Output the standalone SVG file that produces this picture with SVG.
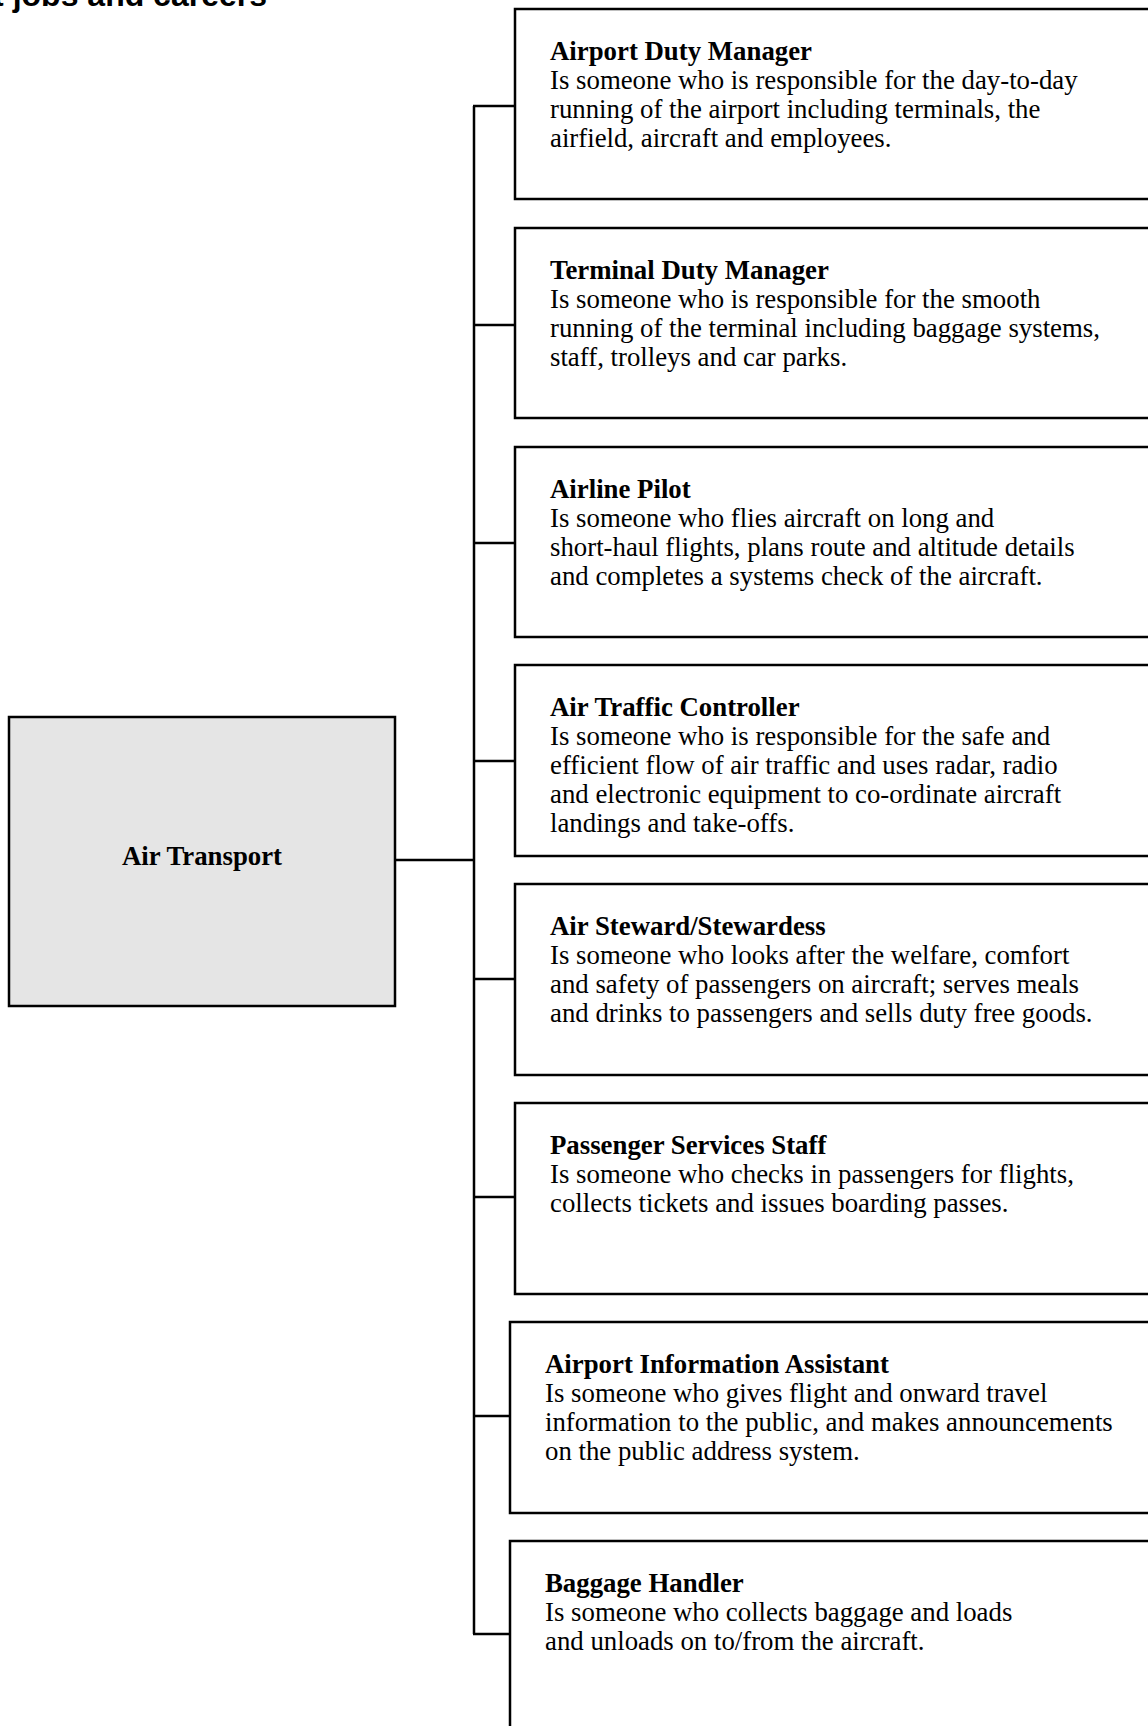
<svg xmlns="http://www.w3.org/2000/svg" width="1148" height="1726" viewBox="0 0 1148 1726">
<style>
.box{fill:#ffffff;stroke:#000;stroke-width:2.5}
.root{fill:#e5e5e5;stroke:#000;stroke-width:2.5}
.ln{stroke:#000;stroke-width:2.5;fill:none}
.t{font-family:"Liberation Serif","Times New Roman",serif;font-size:26.8px;fill:#000}
.h{font-weight:bold}
.title{font-family:"Liberation Sans",Arial,sans-serif;font-size:32px;font-weight:bold;fill:#000}
</style>
<rect width="1148" height="1726" fill="#fff"/>
<text class="title" x="267" y="6" text-anchor="end">Air Transport jobs and careers</text>
<g id="connectors">
<line class="ln" x1="474" y1="106" x2="474" y2="1634"/>
<line class="ln" x1="396" y1="860" x2="474" y2="860"/>
<line class="ln" x1="473" y1="106" x2="515" y2="106"/>
<line class="ln" x1="473" y1="325" x2="515" y2="325"/>
<line class="ln" x1="473" y1="543" x2="515" y2="543"/>
<line class="ln" x1="473" y1="761" x2="515" y2="761"/>
<line class="ln" x1="473" y1="979" x2="515" y2="979"/>
<line class="ln" x1="473" y1="1197" x2="515" y2="1197"/>
<line class="ln" x1="473" y1="1416" x2="510" y2="1416"/>
<line class="ln" x1="473" y1="1634" x2="510" y2="1634"/>
</g>
<g id="air-transport">
<rect class="root" x="9" y="717" width="386" height="289"/>
<text class="t h" x="202" y="865" text-anchor="middle">Air Transport</text>
</g>
<g id="airport-duty-manager">
<rect class="box" x="515" y="9" width="660" height="190"/>
<text class="t" x="550"><tspan class="h" x="550" y="60">Airport Duty Manager</tspan><tspan x="550" y="89">Is someone who is responsible for the day-to-day</tspan><tspan x="550" y="118">running of the airport including terminals, the</tspan><tspan x="550" y="147">airfield, aircraft and employees.</tspan></text>
</g>
<g id="terminal-duty-manager">
<rect class="box" x="515" y="228" width="660" height="190"/>
<text class="t" x="550"><tspan class="h" x="550" y="279">Terminal Duty Manager</tspan><tspan x="550" y="308">Is someone who is responsible for the smooth</tspan><tspan x="550" y="337">running of the terminal including baggage systems,</tspan><tspan x="550" y="366">staff, trolleys and car parks.</tspan></text>
</g>
<g id="airline-pilot">
<rect class="box" x="515" y="447" width="660" height="190"/>
<text class="t" x="550"><tspan class="h" x="550" y="498">Airline Pilot</tspan><tspan x="550" y="527">Is someone who flies aircraft on long and</tspan><tspan x="550" y="556">short-haul flights, plans route and altitude details</tspan><tspan x="550" y="585">and completes a systems check of the aircraft.</tspan></text>
</g>
<g id="air-traffic-controller">
<rect class="box" x="515" y="665" width="660" height="191"/>
<text class="t" x="550"><tspan class="h" x="550" y="716">Air Traffic Controller</tspan><tspan x="550" y="745">Is someone who is responsible for the safe and</tspan><tspan x="550" y="774">efficient flow of air traffic and uses radar, radio</tspan><tspan x="550" y="803">and electronic equipment to co-ordinate aircraft</tspan><tspan x="550" y="832">landings and take-offs.</tspan></text>
</g>
<g id="air-steward">
<rect class="box" x="515" y="884" width="660" height="191"/>
<text class="t" x="550"><tspan class="h" x="550" y="935">Air Steward/Stewardess</tspan><tspan x="550" y="964">Is someone who looks after the welfare, comfort</tspan><tspan x="550" y="993">and safety of passengers on aircraft; serves meals</tspan><tspan x="550" y="1022">and drinks to passengers and sells duty free goods.</tspan></text>
</g>
<g id="passenger-services-staff">
<rect class="box" x="515" y="1103" width="660" height="191"/>
<text class="t" x="550"><tspan class="h" x="550" y="1154">Passenger Services Staff</tspan><tspan x="550" y="1183">Is someone who checks in passengers for flights,</tspan><tspan x="550" y="1212">collects tickets and issues boarding passes.</tspan></text>
</g>
<g id="airport-information-assistant">
<rect class="box" x="510" y="1322" width="665" height="191"/>
<text class="t" x="545"><tspan class="h" x="545" y="1373">Airport Information Assistant</tspan><tspan x="545" y="1402">Is someone who gives flight and onward travel</tspan><tspan x="545" y="1431">information to the public, and makes announcements</tspan><tspan x="545" y="1460">on the public address system.</tspan></text>
</g>
<g id="baggage-handler">
<rect class="box" x="510" y="1541" width="665" height="200"/>
<text class="t" x="545"><tspan class="h" x="545" y="1592">Baggage Handler</tspan><tspan x="545" y="1621">Is someone who collects baggage and loads</tspan><tspan x="545" y="1650">and unloads on to/from the aircraft.</tspan></text>
</g>
</svg>
